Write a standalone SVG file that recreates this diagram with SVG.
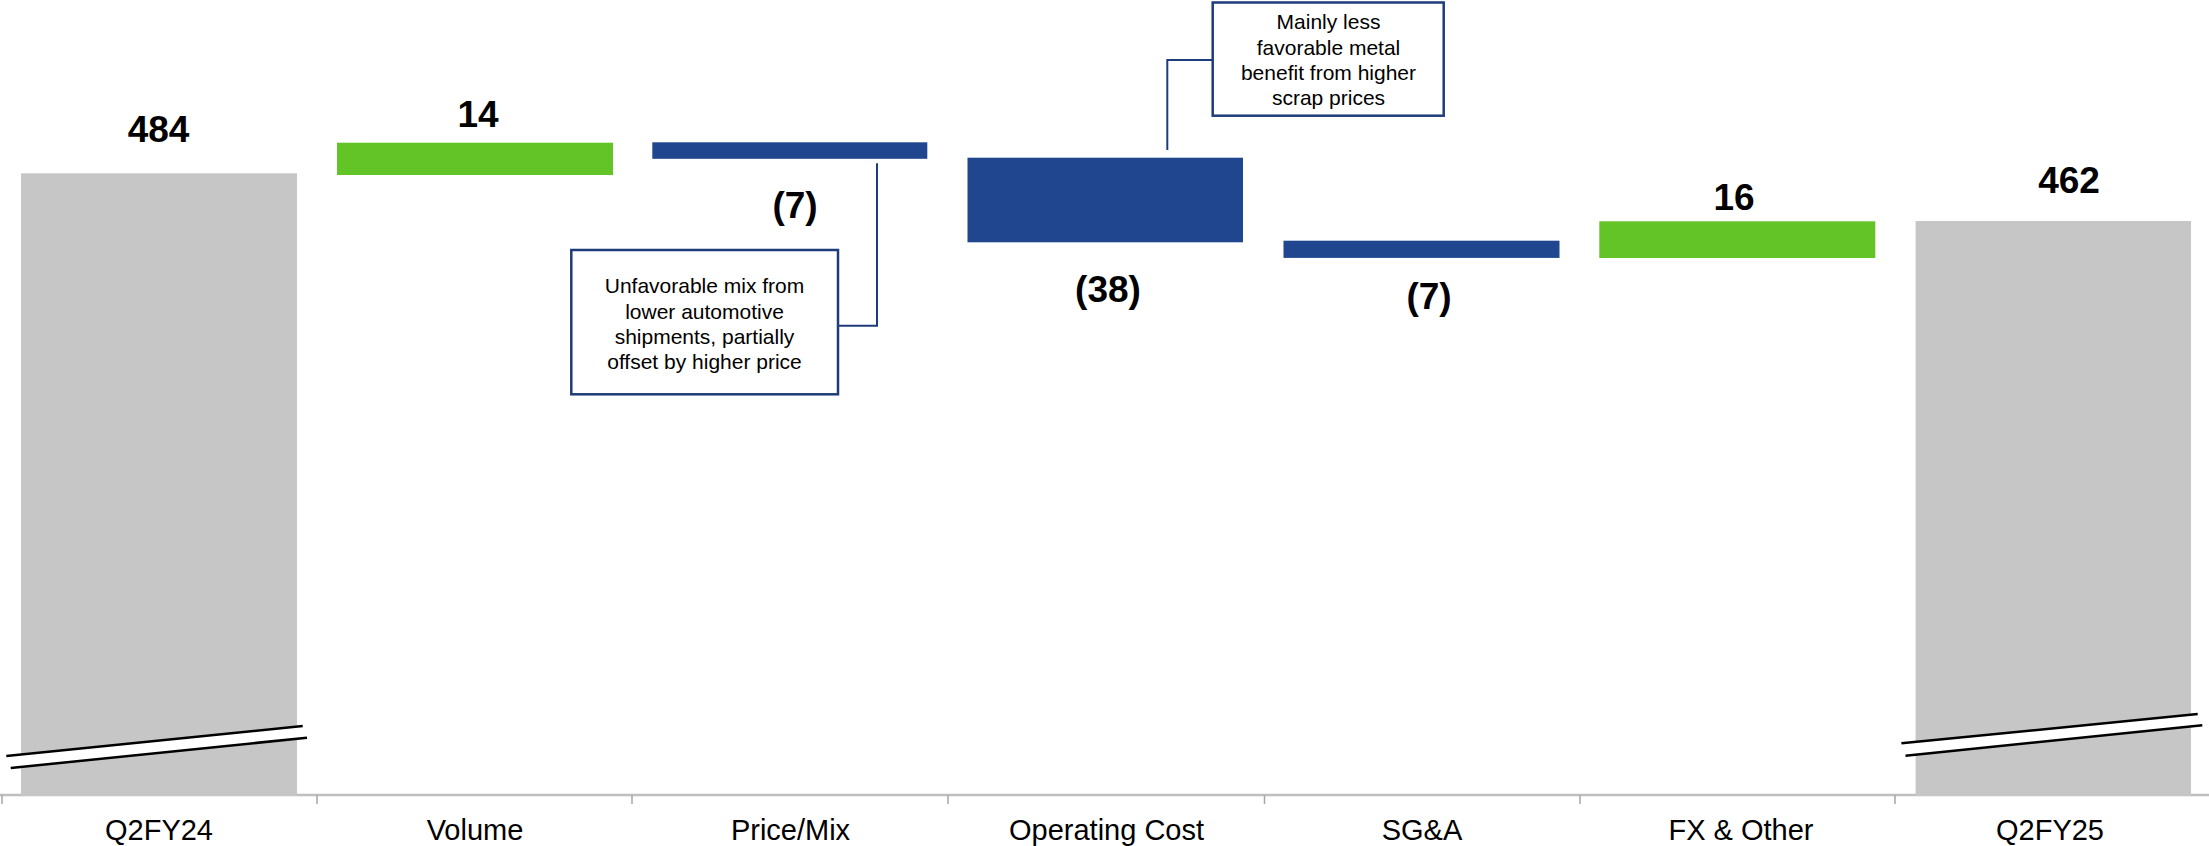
<svg xmlns="http://www.w3.org/2000/svg" width="2209" height="846" viewBox="0 0 2209 846">
<style>
.total{fill:#c6c6c6}
.up{fill:#62c426}
.down{fill:#1f468e}
.val{font-family:"Liberation Sans",Arial,sans-serif;font-weight:bold;font-size:37px;fill:#000;text-anchor:middle}
.cat{font-family:"Liberation Sans",Arial,sans-serif;font-size:29px;fill:#000;text-anchor:middle}
.note{font-family:"Liberation Sans",Arial,sans-serif;font-size:21px;fill:#000;text-anchor:middle}
.box{fill:#fff;stroke:#1f3c7a;stroke-width:2.5}
.lead{fill:none;stroke:#1f3c7a;stroke-width:2}
.brk{fill:#fff}
.brkl{stroke:#000;stroke-width:2.5;fill:none}
.axis{stroke:#bfbfbf;stroke-width:2.5;fill:none}
.tick{stroke:#a6a6a6;stroke-width:1.5;fill:none}
</style>
<rect width="2209" height="846" fill="#fff"/>

<g id="axis">
<line class="axis" x1="0" y1="795" x2="2209" y2="795"/>
<line class="tick" x1="2" y1="795" x2="2" y2="804"/>
<line class="tick" x1="317" y1="795" x2="317" y2="804"/>
<line class="tick" x1="632" y1="795" x2="632" y2="804"/>
<line class="tick" x1="948" y1="795" x2="948" y2="804"/>
<line class="tick" x1="1264.5" y1="795" x2="1264.5" y2="804"/>
<line class="tick" x1="1580" y1="795" x2="1580" y2="804"/>
<line class="tick" x1="1895" y1="795" x2="1895" y2="804"/>
</g>

<g id="q2fy24">
<rect class="total" x="21" y="173.3" width="276" height="622.7"/>
<polygon class="brk" points="6.3,756 302.7,726 307,737.7 10.7,768"/>
<line class="brkl" x1="6.3" y1="756" x2="302.7" y2="726"/>
<line class="brkl" x1="10.7" y1="768" x2="307" y2="737.7"/>
<text class="val" x="158.5" y="141.7">484</text>
<text class="cat" x="159" y="840">Q2FY24</text>
</g>

<g id="volume">
<rect class="up" x="337" y="142.7" width="276" height="32.3"/>
<text class="val" x="478" y="127">14</text>
<text class="cat" x="475" y="840">Volume</text>
</g>

<g id="pricemix">
<rect class="down" x="652.3" y="142.3" width="275" height="16.5"/>
<text class="val" x="795" y="217.5">(7)</text>
<text class="cat" x="790.5" y="840">Price/Mix</text>
</g>

<g id="opcost">
<rect class="down" x="967.5" y="157.7" width="275.5" height="84.6"/>
<text class="val" x="1108" y="302">(38)</text>
<text class="cat" x="1106.5" y="840">Operating Cost</text>
</g>

<g id="sga">
<rect class="down" x="1283.5" y="240.7" width="276" height="17.2"/>
<text class="val" x="1429" y="308.5">(7)</text>
<text class="cat" x="1422" y="840">SG&amp;A</text>
</g>

<g id="fxother">
<rect class="up" x="1599.3" y="221.3" width="276" height="36.7"/>
<text class="val" x="1734" y="210">16</text>
<text class="cat" x="1741" y="840">FX &amp; Other</text>
</g>

<g id="q2fy25">
<rect class="total" x="1915.6" y="221" width="275.4" height="575"/>
<polygon class="brk" points="1901.4,743.3 2197.7,714 2202.3,725.3 1905.5,755.7"/>
<line class="brkl" x1="1901.4" y1="743.3" x2="2197.7" y2="714"/>
<line class="brkl" x1="1905.5" y1="755.7" x2="2202.3" y2="725.3"/>
<text class="val" x="2069" y="192.7">462</text>
<text class="cat" x="2050" y="840">Q2FY25</text>
</g>

<g id="connectors">
<polyline class="lead" points="838,325.7 877,325.7 877,163.3"/>
<polyline class="lead" points="1212.7,60 1167.3,60 1167.3,150"/>
</g>

<g id="note-pricemix">
<rect class="box" x="571.3" y="250" width="266.7" height="144.3"/>
<text class="note" x="704.5" y="293.3">Unfavorable mix from</text>
<text class="note" x="704.5" y="318.5">lower automotive</text>
<text class="note" x="704.5" y="344">shipments, partially</text>
<text class="note" x="704.5" y="369">offset by higher price</text>
</g>

<g id="note-opcost">
<rect class="box" x="1212.7" y="2.5" width="231" height="113.2"/>
<text class="note" x="1328.5" y="29">Mainly less</text>
<text class="note" x="1328.5" y="54.5">favorable metal</text>
<text class="note" x="1328.5" y="80">benefit from higher</text>
<text class="note" x="1328.5" y="104.5">scrap prices</text>
</g>
</svg>
